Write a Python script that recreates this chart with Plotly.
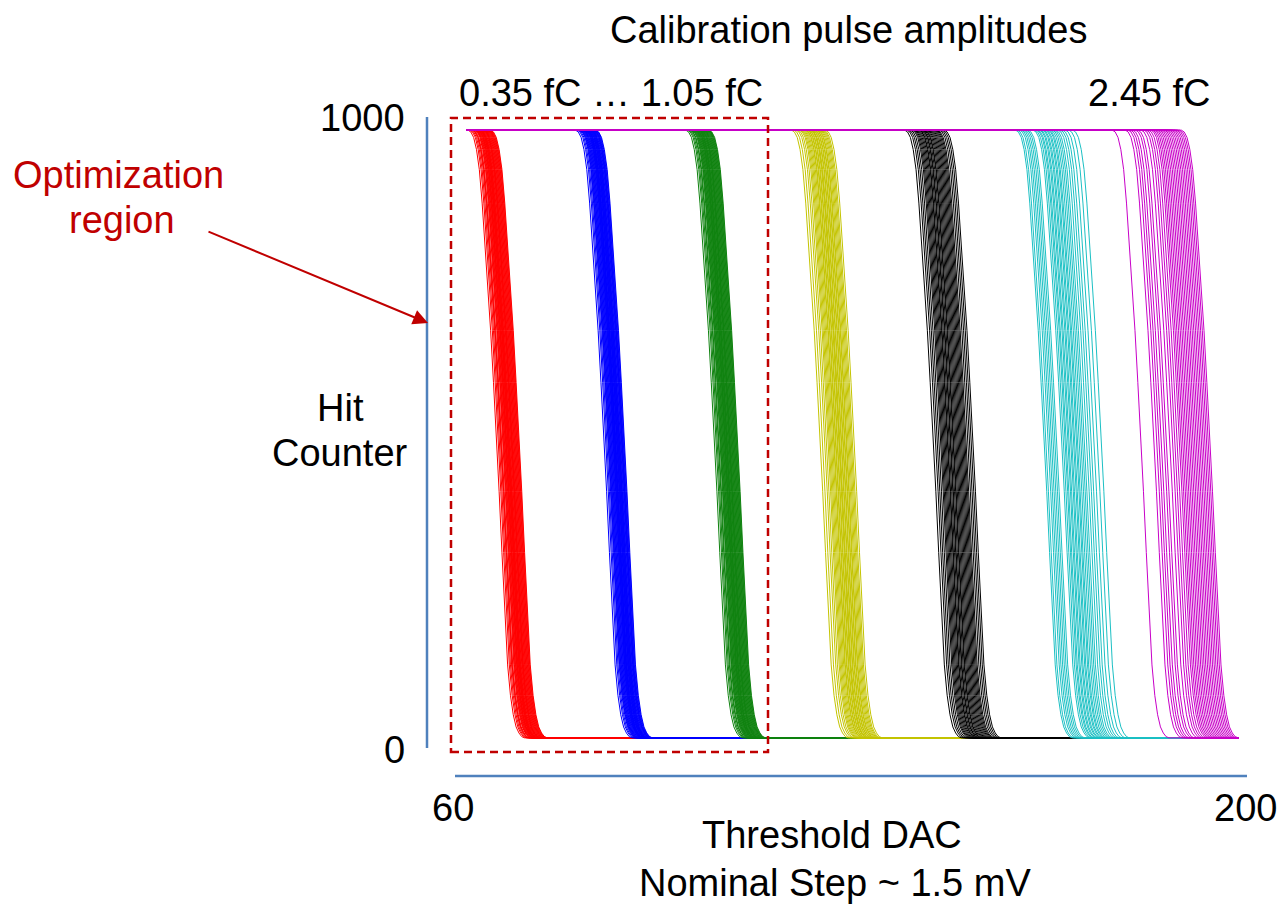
import plotly.graph_objects as go

# ---------------- data ----------------
charges = ["0.35 fC", "0.70 fC", "1.05 fC", "1.40 fC", "1.75 fC", "2.10 fC", "2.45 fC"]
colors = ["#FF0000", "#0000FF", "#0F820F", "#C4C400", "#000000", "#1CC0C4", "#C800C8"]

# scanned threshold DAC range
dac_start = 62.0
dac_end = 198.5

# typical S-curve shape: DAC offset from the 50 % point -> hit counts
profile_offset = [-5.0, -4.5, -4.0, -3.5, -3.0, -2.5, -2.0, -1.5, -1.0, -0.5, 0.0,
                  0.5, 1.0, 1.5, 2.0, 2.5, 3.0, 3.5, 4.0, 4.5, 5.0]
profile_hits = [1000, 997, 988, 968, 935, 880, 815, 745, 670, 585, 500,
                405, 305, 200, 120, 70, 38, 18, 8, 2, 0]

# 50 % points (threshold DAC) of the individual channels, per calibration amplitude
red_mid = [67.3, 67.6, 67.8, 68.0, 68.1, 68.2, 68.4, 68.5, 68.6, 68.7, 68.8, 68.9, 69.0, 69.0,
           69.1, 69.2, 69.3, 69.3, 69.4, 69.5, 69.5, 69.6, 69.7, 69.8, 69.9, 70.0, 70.0, 70.1,
           70.2, 70.3, 70.4, 70.5, 70.6, 70.7, 70.8, 70.9, 71.0, 71.1, 71.2, 71.3]
blue_mid = [86.3, 86.6, 86.8, 87.0, 87.1, 87.2, 87.3, 87.4, 87.5, 87.6, 87.7, 87.8, 87.9, 88.0,
            88.0, 88.1, 88.2, 88.3, 88.3, 88.4, 88.5, 88.6, 88.6, 88.7, 88.8, 88.9, 89.0, 89.0,
            89.1, 89.2, 89.3, 89.4, 89.5, 89.5, 89.6, 89.7, 89.8, 89.9, 88.2, 88.8]
green_mid = [105.8, 106.1, 106.3, 106.5, 106.6, 106.8, 106.9, 107.0, 107.1, 107.2, 107.3, 107.4,
             107.5, 107.6, 107.7, 107.7, 107.8, 107.9, 108.0, 108.0, 108.1, 108.2, 108.3, 108.4,
             108.5, 108.5, 108.6, 108.7, 108.8, 108.9, 109.0, 109.1, 109.2, 109.3, 109.4, 109.5,
             109.6, 109.7, 109.8, 109.9]
yellow_mid = [124.5, 124.9, 125.3, 125.6, 125.9, 126.1, 126.3, 126.5, 126.7, 126.9, 127.0, 127.2,
              127.3, 127.5, 127.6, 127.8, 127.9, 128.0, 128.2, 128.3, 128.5, 128.6, 128.8, 128.9,
              129.1, 129.2, 129.4, 129.6, 129.8, 130.0, 130.2, 130.5]
black_mid = [144.5, 144.9, 145.2, 145.5, 145.8, 146.0, 146.2, 146.4, 146.6, 146.8, 147.0, 147.1,
             147.3, 147.5, 147.6, 147.8, 148.0, 148.1, 148.3, 148.5, 148.7, 148.9, 149.1, 149.3,
             149.5, 149.7, 149.9, 150.1, 150.3, 150.6, 150.9, 151.2, 151.5]
cyan_mid = [164.1, 164.4, 164.8, 165.1, 165.4, 165.7, 166.0, 166.3, 167.2, 167.5, 167.8, 168.0,
            168.3, 168.5, 168.8, 169.0, 169.3, 169.5, 169.8, 170.0, 170.3, 170.6, 170.9, 171.2,
            171.6, 172.0, 172.4, 172.9, 173.5, 174.2]
magenta_mid = [181.2, 183.5, 184.0, 184.4, 184.8, 185.3, 185.7, 186.3, 186.8, 187.2, 187.6, 188.0,
               188.3, 188.6, 188.9, 189.2, 189.5, 189.8, 190.1, 190.4, 190.7, 191.0, 191.3, 191.6,
               191.9, 192.2, 192.5, 192.8, 193.1, 193.4]

channel_mids = [red_mid, blue_mid, green_mid, yellow_mid, black_mid, cyan_mid, magenta_mid]

# ---------------- figure ----------------
W, H = 1282, 908
L, R, T, B = 455, 35, 118, 158
PW, PH = W - L - R, H - T - B


def px(xp):
    return (xp - L) / PW


def py(yp):
    return (H - B - yp) / PH


fig = go.Figure()
for name, col, mids in zip(charges, colors, channel_mids):
    xs, ys = [], []
    for m in mids:
        xs.append(dac_start)
        ys.append(profile_hits[0])
        for o, v in zip(profile_offset, profile_hits):
            xs.append(m + o)
            ys.append(v)
        xs.append(dac_end)
        ys.append(profile_hits[-1])
        xs.append(None)
        ys.append(None)
    fig.add_trace(go.Scatter(x=xs, y=ys, mode="lines", name=name,
                             line=dict(color=col, width=1), hoverinfo="skip",
                             connectgaps=False))

FONT = "Liberation Sans, Arial, sans-serif"
DARKRED = "#C00000"
AXBLUE = "#4F81BD"
FS = 38

ann = []


def text(t, xp, yp, size=FS, color="black", xanchor="center"):
    ann.append(dict(text=t, x=px(xp), y=py(yp), xref="paper", yref="paper",
                    xanchor=xanchor, yanchor="middle", showarrow=False,
                    font=dict(family=FONT, size=size, color=color)))


text("Calibration pulse amplitudes", 848, 30)
text("0.35 fC … 1.05 fC", 611, 93)
text("2.45 fC", 1149, 93)
text("1000", 407, 118, xanchor="right")
text("0", 407, 750, xanchor="right")
text("Optimization", 118, 175, color=DARKRED)
text("region", 122, 220, color=DARKRED)
text("Hit", 340, 408)
text("Counter", 340, 453)
text("60", 453, 808)
text("200", 1245, 808)
text("Threshold DAC", 832, 835)
text("Nominal Step ~ 1.5 mV", 835, 883)

# arrow pointing at the axis
ann.append(dict(text="", x=px(428), y=py(323), xref="paper", yref="paper",
                ax=207 - 428, ay=231 - 323, axref="pixel", ayref="pixel",
                showarrow=True, arrowhead=2, arrowsize=1.5, arrowwidth=2,
                arrowcolor=DARKRED, standoff=0))

shapes = [
    # vertical axis line
    dict(type="line", xref="paper", yref="paper", x0=px(427), x1=px(427),
         y0=py(117), y1=py(748), line=dict(color=AXBLUE, width=2.5)),
    # horizontal axis line
    dict(type="line", xref="paper", yref="paper", x0=px(455), x1=px(1247),
         y0=py(776), y1=py(776), line=dict(color=AXBLUE, width=2.5)),
    # optimization region (dashed box)
    dict(type="rect", xref="paper", yref="paper", x0=px(451), x1=px(768),
         y0=py(752), y1=py(118), line=dict(color=DARKRED, width=2.5, dash="8px,5px"),
         fillcolor="rgba(0,0,0,0)"),
]

fig.update_layout(
    width=W, height=H,
    margin=dict(l=L, r=R, t=T, b=B, pad=0),
    paper_bgcolor="white", plot_bgcolor="white",
    showlegend=False,
    xaxis=dict(range=[60, 200], visible=False, fixedrange=True),
    yaxis=dict(range=[-20, 1020], visible=False, fixedrange=True),
    annotations=ann, shapes=shapes,
)

fig.write_html("out.html")
